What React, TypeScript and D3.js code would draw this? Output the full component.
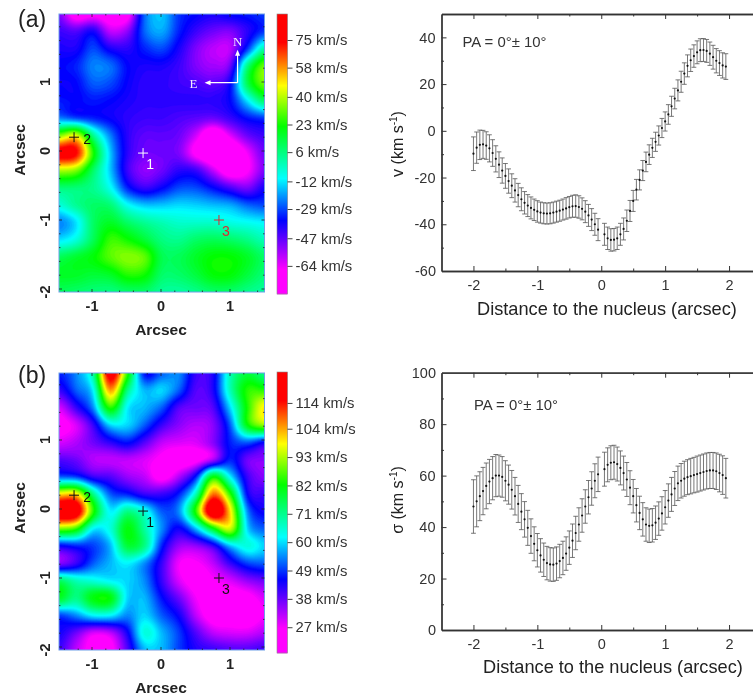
import React, { useEffect, useRef } from "react";
import * as d3 from "d3";

const FONT = "'Liberation Sans', Arial, sans-serif";

// maps: rows run north to south (+2 .. -2), columns east to west side (-1.5 .. 1.5), step 0.25"
const velocityMap = [
  [-50, -72, -68, -72, -70, -25, -15, -30, -35, -38, -35, -33, -30],
  [-42, -45, -38, -58, -52, -25, -18, -32, -42, -48, -50, -40, -30],
  [-38, -38, -28, -38, -40, -32, -28, -38, -50, -57, -57, -30, 2],
  [-35, -32, -22, -24, -35, -38, -38, -42, -50, -54, -48, 6, 34],
  [-36, -35, -26, -28, -36, -40, -40, -42, -44, -46, -36, 12, 34],
  [-33, -35, -33, -35, -38, -40, -40, -40, -40, -40, -35, -12, 10],
  [-22, -28, -32, -36, -40, -42, -42, -44, -46, -48, -42, -34, -30],
  [35, 45, 5, -22, -40, -46, -46, -48, -60, -78, -62, -48, -42],
  [80, 75, 25, -15, -40, -48, -48, -50, -68, -80, -80, -64, -48],
  [40, 35, 10, -15, -42, -52, -48, -40, -42, -58, -74, -66, -50],
  [8, 8, 5, -8, -32, -42, -36, -28, -28, -35, -44, -50, -38],
  [-5, 4, 10, 8, -8, -15, -15, -13, -14, -16, -18, -25, -28],
  [-22, -12, 10, 18, 10, 4, 0, -3, -3, -3, -6, -8, -10],
  [-12, -5, 12, 28, 24, 16, 7, 5, 10, 12, 10, 6, 0],
  [12, 17, 22, 31, 36, 32, 13, 12, 18, 23, 23, 18, 10],
  [18, 18, 16, 18, 26, 24, 10, 10, 15, 22, 22, 15, 8],
  [12, 10, 8, 7, 10, 10, 4, 3, 6, 10, 10, 6, 3],
];

const dispersionMap = [
  [48, 55, 70, 120, 85, 47, 52, 55, 42, 44, 68, 78, 72],
  [42, 52, 62, 105, 72, 58, 60, 52, 40, 44, 68, 85, 85],
  [30, 42, 55, 85, 62, 58, 52, 40, 38, 40, 60, 84, 100],
  [25, 30, 42, 60, 60, 52, 42, 36, 33, 36, 52, 82, 92],
  [30, 33, 38, 43, 47, 40, 32, 30, 30, 36, 48, 52, 46],
  [40, 38, 33, 32, 32, 30, 26, 23, 25, 33, 48, 38, 36],
  [52, 50, 42, 40, 35, 32, 25, 33, 48, 82, 62, 42, 36],
  [100, 100, 72, 52, 48, 42, 42, 48, 68, 108, 85, 46, 42],
  [125, 122, 85, 62, 72, 65, 52, 55, 85, 125, 100, 55, 45],
  [90, 85, 62, 65, 82, 70, 55, 45, 58, 80, 95, 60, 52],
  [45, 48, 50, 58, 78, 72, 48, 35, 35, 42, 58, 65, 60],
  [36, 42, 52, 58, 62, 55, 42, 28, 27, 32, 42, 50, 52],
  [75, 68, 65, 62, 60, 55, 42, 30, 25, 27, 30, 35, 38],
  [80, 72, 82, 82, 60, 58, 47, 38, 28, 24, 24, 25, 30],
  [50, 55, 62, 62, 55, 60, 52, 45, 32, 24, 24, 23, 28],
  [45, 38, 30, 32, 45, 65, 58, 50, 40, 32, 30, 30, 33],
  [42, 32, 25, 25, 40, 58, 58, 50, 44, 42, 40, 40, 42],
];

const velocityBarTicks = [75, 58, 40, 23, 6, -12, -29, -47, -64];
const dispersionBarTicks = [114, 104, 93, 82, 71, 60, 49, 38, 27];

const markerNames = ["1", "2", "3"];
const markerX = [-0.26, -1.26, 0.84];
const markerY = [-0.03, 0.2, -1];

// profile sampled every 0.05" with the central bin missing
const distance = d3.range(-40, 40).filter((i) => i !== 0).map((i) => i * 0.05);

const velocity = [
  -9.8, -7.2, -6, -5.8, -6.3, -7.5, -9.5, -12, -14.5, -17, -19.3, -21.5, -23.5, -25.5, -27.5, -29.3, -30.8, -32, -33, -33.8,
  -34.5, -35, -35.3, -35.4, -35.3, -35, -34.6, -34.2, -33.7, -33.2, -32.7, -32.3, -32.2, -32.6, -33.4, -34.6, -36.2, -38, -40, -42.3,
  -44.3, -46, -46.7, -46.6, -46, -44.3, -42, -38.5, -34.3, -30, -25.2, -21, -17, -13.3, -10.2, -7.3, -4.7, -2, 1.2, 4,
  7, 10.5, 13.8, 17.3, 21, 24.5, 27.8, 30.2, 32, 33.6, 34.5, 34.6, 34.2, 33, 31.5, 30, 29, 28, 27.5,
];
const velocityErr = [
  7.2, 6.7, 6.3, 6, 5.9, 5.8, 5.7, 5.6, 5.5, 5.4, 5.3, 5.2, 5.1, 5, 5, 4.9, 4.8, 4.7, 4.7, 4.6,
  4.6, 4.5, 4.5, 4.5, 4.5, 4.5, 4.5, 4.5, 4.5, 4.6, 4.6, 4.7, 4.8, 4.8, 4.7, 4.7, 4.7, 4.7, 4.7, 4.7,
  4.7, 4.8, 4.8, 4.8, 4.8, 4.7, 4.7, 4.6, 4.5, 4.5, 4.4, 4.3, 4.3, 4.2, 4.2, 4.1, 4.1, 4.1, 4.1, 4.1,
  4.2, 4.3, 4.4, 4.5, 4.5, 4.6, 4.7, 4.8, 4.8, 4.9, 4.9, 4.9, 4.9, 5, 5.1, 5.2, 5.3, 5.4, 5.5,
];
const sigma = [
  48, 50, 52, 54, 56, 57.7, 59, 60, 60, 59.5, 58, 56.5, 54.5, 52, 49, 46, 43, 39.7, 36.5, 33.5,
  31, 29, 27.3, 26, 25.5, 25.4, 25.8, 26.8, 28, 29.7, 32, 34.7, 37.7, 41, 44.5, 48, 51.6, 55, 58, 60.5,
  62.5, 64.2, 65, 65.2, 64.5, 63, 61, 58.5, 55.3, 52, 48.5, 45.5, 43, 41, 40.5, 40.7, 41.7, 43.3, 45.3, 47.7,
  50.3, 52.7, 55, 57, 58, 58.8, 59.4, 59.8, 60.2, 60.6, 61, 61.4, 61.8, 62, 62, 61.7, 61, 60.2, 59,
];
const sigmaErr = [
  10.4, 9.9, 9.5, 9.2, 8.9, 8.6, 8.4, 8.2, 8, 7.9, 7.8, 7.6, 7.5, 7.3, 7.2, 7, 6.9, 6.8, 6.7, 6.6,
  6.5, 6.5, 6.5, 6.5, 6.5, 6.5, 6.5, 6.5, 6.5, 6.5, 6.5, 6.5, 6.5, 6.5, 6.5, 6.5, 6.5, 6.5, 6.6, 6.7,
  6.6, 6.6, 6.6, 6.6, 6.6, 6.6, 6.6, 6.6, 6.6, 6.5, 6.5, 6.5, 6.5, 6.5, 6.5, 6.5, 6.5, 6.5, 6.5, 6.5,
  6.5, 6.6, 6.6, 6.7, 6.7, 6.8, 6.8, 6.9, 6.9, 7, 7, 7, 7, 7, 7, 7.1, 7.3, 7.5, 7.7,
];

const rainbow = d3
  .scaleLinear<string>()
  .domain([0, 0.09, 0.264, 0.414, 0.6, 0.746, 0.9, 1])
  .range(["#ff00ff", "#ff00ff", "#0000ff", "#00ffff", "#00ff00", "#ffff00", "#ff0000", "#ff0000"])
  .clamp(true);

// Catmull-Rom resampling so the coarse grid reads as a smooth map
function resample(grid: number[][], k: number) {
  const rows = grid.length;
  const cols = grid[0].length;
  const cr = (a: number, b: number, c: number, d: number, t: number) =>
    0.5 * (2 * b + (c - a) * t + (2 * a - 5 * b + 4 * c - d) * t * t + (3 * b - a - 3 * c + d) * t * t * t);
  const w = (cols - 1) * k + 1;
  const h = (rows - 1) * k + 1;
  const at = (r: number, c: number) => grid[Math.max(0, Math.min(rows - 1, r))][Math.max(0, Math.min(cols - 1, c))];
  const out = new Array(w * h);
  for (let j = 0; j < h; j++) {
    const r = Math.floor(j / k);
    const tr = j / k - r;
    for (let i = 0; i < w; i++) {
      const c = Math.floor(i / k);
      const tc = i / k - c;
      const col = [-1, 0, 1, 2].map((dr) =>
        cr(at(r + dr, c - 1), at(r + dr, c), at(r + dr, c + 1), at(r + dr, c + 2), tc)
      );
      out[j * w + i] = cr(col[0], col[1], col[2], col[3], tr);
    }
  }
  return { values: out, w, h };
}

type Svg = d3.Selection<SVGSVGElement, unknown, null, undefined>;

function drawMap(
  svg: Svg,
  opts: {
    id: string;
    grid: number[][];
    letter: string;
    letterY: number;
    top: number;
    bottom: number;
    zeroY: number;
    barTop: number;
    barBottom: number;
    barLow: number;
    barHigh: number;
    barTicks: number[];
    markerColors: string[];
    compass: boolean;
  }
) {
  const { id, grid, top, bottom, zeroY, barTop, barBottom, barLow, barHigh, barTicks } = opts;
  const left = 59;
  const right = 264.5;
  const x = d3.scaleLinear().domain([-1.5, 1.5]).range([57.5, 264.5]);
  const y = d3.scaleLinear().domain([0, 1]).range([zeroY, zeroY - 69]);
  const g = svg.append("g");

  const frac = d3.scaleLinear().domain([barLow, barHigh]).range([0, 1]);
  const color = (v: number) => rainbow(frac(v));

  const { values, w, h } = resample(grid, 6);
  const thresholds = d3.range(barLow, barHigh, (barHigh - barLow) / 110);
  const cx = d3.scaleLinear().domain([0.5, w - 0.5]).range([left, right]);
  const cy = d3.scaleLinear().domain([0.5, h - 0.5]).range([top, bottom]);
  const path = d3.geoPath(
    d3.geoTransform({
      point(px, py) {
        this.stream.point(cx(px), cy(py));
      },
    })
  );
  svg
    .append("defs")
    .append("clipPath")
    .attr("id", id)
    .append("rect")
    .attr("x", left)
    .attr("y", top)
    .attr("width", right - left)
    .attr("height", bottom - top);
  const field = g.append("g").attr("clip-path", `url(#${id})`);
  field
    .append("rect")
    .attr("x", left)
    .attr("y", top)
    .attr("width", right - left)
    .attr("height", bottom - top)
    .attr("fill", color(barLow));
  field
    .selectAll("path")
    .data(d3.contours().size([w, h]).thresholds(thresholds)(values))
    .join("path")
    .attr("d", path as any)
    .attr("fill", (d) => color(d.value))
    .attr("stroke", (d) => color(d.value))
    .attr("stroke-width", 0.4);

  g.append("rect")
    .attr("x", left)
    .attr("y", top)
    .attr("width", right - left)
    .attr("height", bottom - top)
    .attr("fill", "none")
    .attr("stroke", "#6f9fe8")
    .attr("stroke-width", 1);

  // inward ticks on every side of the map
  const xMinor = d3.range(-14, 15, 2).map((d) => d / 10).filter((d) => d % 1 !== 0);
  const yMinor = d3.range(-20, 20, 2).map((d) => d / 10).filter((d) => d % 1 !== 0);
  const tick = (x1: number, y1: number, x2: number, y2: number) =>
    g.append("line").attr("x1", x1).attr("y1", y1).attr("x2", x2).attr("y2", y2).attr("stroke", "#222").attr("stroke-width", 0.8);
  [-1, 0, 1].forEach((d) => {
    tick(x(d), bottom, x(d), bottom - 3);
    tick(x(d), top, x(d), top + 3);
  });
  xMinor.forEach((d) => {
    tick(x(d), bottom, x(d), bottom - 1.5);
    tick(x(d), top, x(d), top + 1.5);
  });
  [-2, -1, 0, 1].forEach((d) => {
    tick(left, y(d), left + 3, y(d));
    tick(right, y(d), right - 3, y(d));
  });
  yMinor.forEach((d) => {
    if (y(d) > top && y(d) < bottom) {
      tick(left, y(d), left + 1.5, y(d));
      tick(right, y(d), right - 1.5, y(d));
    }
  });

  const bold = (t: d3.Selection<SVGTextElement, any, any, any>, size: number) =>
    t.attr("font-family", FONT).attr("font-weight", "bold").attr("font-size", size).attr("fill", "#222");

  [-1, 0, 1].forEach((d) => {
    bold(g.append("text"), 14.5)
      .attr("x", x(d))
      .attr("y", bottom + 19)
      .attr("text-anchor", "middle")
      .text(d);
  });
  [-2, -1, 0, 1].forEach((d) => {
    bold(g.append("text"), 14.5)
      .attr("transform", `translate(50,${y(d) + (d === -2 ? 3 : 0)}) rotate(-90)`)
      .attr("text-anchor", "middle")
      .text(d);
  });
  bold(g.append("text"), 15.5)
    .attr("x", 161)
    .attr("y", bottom + 43)
    .attr("text-anchor", "middle")
    .text("Arcsec");
  bold(g.append("text"), 15.5)
    .attr("transform", `translate(25,${zeroY - 1}) rotate(-90)`)
    .attr("text-anchor", "middle")
    .text("Arcsec");

  g.append("text")
    .attr("x", 18)
    .attr("y", opts.letterY)
    .attr("font-family", FONT)
    .attr("font-size", 23)
    .attr("fill", "#222")
    .text(opts.letter);

  // plus markers with their numbers
  markerNames.forEach((name, i) => {
    const mx = x(markerX[i]);
    const my = y(markerY[i]);
    const c = opts.markerColors[i];
    g.append("path")
      .attr("d", `M${mx - 5},${my}H${mx + 5}M${mx},${my - 5}V${my + 5}`)
      .attr("stroke", c)
      .attr("stroke-width", 1)
      .attr("fill", "none");
    g.append("text")
      .attr("x", i === 1 ? mx + 13 : mx + 7)
      .attr("y", i === 1 ? my + 7 : my + 16)
      .attr("text-anchor", "middle")
      .attr("font-family", FONT)
      .attr("font-size", 14)
      .attr("fill", c)
      .text(name);
  });

  if (opts.compass) {
    const ox = x(1.11);
    const oy = y(0.99);
    g.append("path")
      .attr("d", `M${ox},${oy}V${oy - 30}M${ox},${oy}H${ox - 30}`)
      .attr("stroke", "#fff")
      .attr("stroke-width", 1.2)
      .attr("fill", "none");
    g.append("path").attr("d", `M${ox},${oy - 33}l-2.5,6h5z`).attr("fill", "#fff");
    g.append("path").attr("d", `M${ox - 33},${oy}l6,-2.5v5z`).attr("fill", "#fff");
    const serif = (t: string, tx: number, ty: number) =>
      g.append("text")
        .attr("x", tx)
        .attr("y", ty)
        .attr("text-anchor", "middle")
        .attr("font-family", "'Liberation Serif', serif")
        .attr("font-size", 13)
        .attr("fill", "#f2e9ff")
        .text(t);
    serif("N", ox, oy - 37);
    serif("E", ox - 44, oy + 5);
  }

  // colour bar
  const barX = 277;
  const barW = 10.5;
  const barScale = d3.scaleLinear().domain([barLow, barHigh]).range([barBottom, barTop]);
  const steps = d3.range(0, barBottom - barTop);
  g.append("g")
    .selectAll("rect")
    .data(steps)
    .join("rect")
    .attr("x", barX)
    .attr("width", barW)
    .attr("y", (d) => barTop + d)
    .attr("height", 1.3)
    .attr("fill", (d) => rainbow(1 - d / (barBottom - barTop)));
  g.append("rect")
    .attr("x", barX)
    .attr("y", barTop)
    .attr("width", barW)
    .attr("height", barBottom - barTop)
    .attr("fill", "none")
    .attr("stroke", "#888")
    .attr("stroke-width", 0.6);
  const axis = g
    .append("g")
    .attr("transform", `translate(${barX + barW},0)`)
    .call(
      d3
        .axisRight(barScale)
        .tickValues(barTicks)
        .tickSize(5)
        .tickPadding(3)
        .tickFormat((d) => `${d} km/s`)
    );
  axis.select(".domain").remove();
  axis.selectAll("line").attr("stroke", "#444");
  axis.selectAll("text").attr("font-family", FONT).attr("font-size", 14.8).attr("fill", "#333");
}

function drawProfile(
  svg: Svg,
  opts: {
    yDomain: [number, number];
    top: number;
    bottom: number;
    yMajor: number[];
    yMinor: number[];
    values: number[];
    errors: number[];
    yName: string;
    pa: [number, number];
    titleX: number;
    titleY: number;
    yTitleCenter: number;
  }
) {
  const { top, bottom, values, errors } = opts;
  const x = d3.scaleLinear().domain([-2.5, 2.5]).range([441.5, 761]);
  const y = d3.scaleLinear().domain(opts.yDomain).range([bottom, top]);
  const g = svg.append("g");
  const ink = "#333";

  const marks = g.append("g");
  distance.forEach((d, i) => {
    const px = x(d);
    const hi = y(values[i] + errors[i]);
    const lo = y(values[i] - errors[i]);
    marks
      .append("path")
      .attr("d", `M${px},${hi}V${lo}M${px - 2.4},${hi}H${px + 2.4}M${px - 2.4},${lo}H${px + 2.4}`)
      .attr("stroke", "#555")
      .attr("stroke-width", 0.8)
      .attr("fill", "none");
  });
  marks
    .selectAll("circle")
    .data(distance)
    .join("circle")
    .attr("cx", (d) => x(d))
    .attr("cy", (_, i) => y(values[i]))
    .attr("r", 1.1)
    .attr("fill", "#111");

  const plain = (d: d3.NumberValue) => String(d);
  const bottomAxis = g
    .append("g")
    .attr("transform", `translate(0,${bottom})`)
    .call(d3.axisBottom(x).tickValues([-2, -1, 0, 1, 2]).tickSizeInner(-5).tickSizeOuter(0).tickPadding(9).tickFormat(plain));
  const leftAxis = g
    .append("g")
    .attr("transform", `translate(${x(-2.5)},0)`)
    .call(d3.axisLeft(y).tickValues(opts.yMajor).tickSizeInner(-5).tickSizeOuter(0).tickPadding(6).tickFormat(plain));
  const topAxis = g
    .append("g")
    .attr("transform", `translate(0,${top})`)
    .call(d3.axisTop(x).tickValues([-2, -1, 0, 1, 2]).tickSizeInner(-5).tickSizeOuter(0).tickFormat(() => ""));
  const minorX = g
    .append("g")
    .attr("transform", `translate(0,${bottom})`)
    .call(d3.axisBottom(x).tickValues([-1.5, -0.5, 0.5, 1.5]).tickSizeInner(-2.5).tickSizeOuter(0).tickFormat(() => ""));
  const minorTop = g
    .append("g")
    .attr("transform", `translate(0,${top})`)
    .call(d3.axisTop(x).tickValues([-1.5, -0.5, 0.5, 1.5]).tickSizeInner(-2.5).tickSizeOuter(0).tickFormat(() => ""));
  const minorY = g
    .append("g")
    .attr("transform", `translate(${x(-2.5)},0)`)
    .call(d3.axisLeft(y).tickValues(opts.yMinor).tickSizeInner(-2.5).tickSizeOuter(0).tickFormat(() => ""));
  [bottomAxis, leftAxis, topAxis, minorX, minorTop, minorY].forEach((a) => {
    a.selectAll(".domain").attr("stroke", ink).attr("stroke-width", 1.3);
    a.selectAll("line").attr("stroke", ink).attr("stroke-width", 1);
    a.selectAll("text").attr("font-family", FONT).attr("font-size", 14.5).attr("fill", "#333");
  });

  g.append("text")
    .attr("x", opts.titleX)
    .attr("y", opts.titleY)
    .attr("font-family", FONT)
    .attr("font-size", 18.2)
    .attr("fill", "#222")
    .text("Distance to the nucleus (arcsec)");

  const yTitle = g
    .append("text")
    .attr("transform", `translate(403,${opts.yTitleCenter}) rotate(-90)`)
    .attr("text-anchor", "middle")
    .attr("font-family", FONT)
    .attr("font-size", 16)
    .attr("fill", "#222");
  yTitle.append("tspan").text(`${opts.yName} (km s`);
  yTitle.append("tspan").attr("font-size", 10).attr("dy", -6).text("-1");
  yTitle.append("tspan").attr("dy", 6).text(")");

  g.append("text")
    .attr("x", opts.pa[0])
    .attr("y", opts.pa[1])
    .attr("font-family", FONT)
    .attr("font-size", 14.9)
    .attr("fill", "#333")
    .text("PA = 0°± 10°");
}

export default function App() {
  const ref = useRef<SVGSVGElement>(null);

  useEffect(() => {
    const svg = d3.select(ref.current!) as Svg;
    svg.selectAll("*").remove();

    drawMap(svg, {
      id: "clip-a",
      grid: velocityMap,
      letter: "(a)",
      letterY: 27,
      top: 14,
      bottom: 292,
      zeroY: 151,
      barTop: 14,
      barBottom: 294,
      barLow: -81.3,
      barHigh: 91,
      barTicks: velocityBarTicks,
      markerColors: ["#fff", "#111", "#e0282c"],
      compass: true,
    });
    drawMap(svg, {
      id: "clip-b",
      grid: dispersionMap,
      letter: "(b)",
      letterY: 383,
      top: 373,
      bottom: 650,
      zeroY: 509,
      barTop: 372,
      barBottom: 653,
      barLow: 17,
      barHigh: 126,
      barTicks: dispersionBarTicks,
      markerColors: ["#111", "#111", "#111"],
      compass: false,
    });

    drawProfile(svg, {
      yDomain: [-60, 50],
      top: 14,
      bottom: 271,
      yMajor: [40, 20, 0, -20, -40],
      yMinor: [30, 10, -10, -30, -50],
      values: velocity,
      errors: velocityErr,
      yName: "v",
      pa: [462.5, 46.5],
      titleX: 477,
      titleY: 315,
      yTitleCenter: 144,
    });
    drawProfile(svg, {
      yDomain: [0, 100],
      top: 372.7,
      bottom: 630,
      yMajor: [80, 60, 40, 20],
      yMinor: [90, 70, 50, 30, 10],
      values: sigma,
      errors: sigmaErr,
      yName: "σ",
      pa: [474, 410],
      titleX: 483,
      titleY: 673,
      yTitleCenter: 500,
    });
    // end labels that sit at the frame corners
    const corner = (text: string, yPos: number) =>
      svg
        .append("text")
        .attr("x", 436)
        .attr("y", yPos)
        .attr("text-anchor", "end")
        .attr("font-family", FONT)
        .attr("font-size", 14.5)
        .attr("fill", "#333")
        .text(text);
    corner("-60", 276);
    corner("100", 377.5);
    corner("0", 635);
  }, []);

  return (
    <svg
      ref={ref}
      width={753}
      height={695}
      style={{ position: "absolute", left: 0, top: 0, display: "block", background: "#fff", filter: "blur(0.35px)" }}
    />
  );
}
